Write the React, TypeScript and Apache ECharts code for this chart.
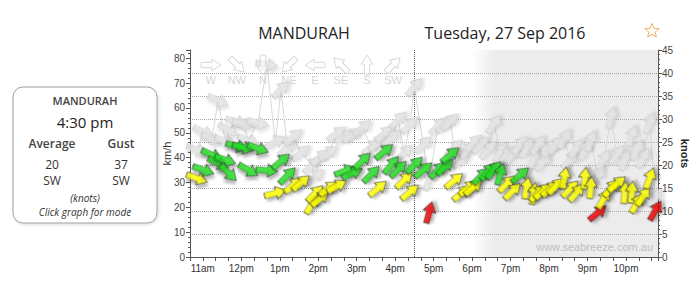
import React, { useEffect, useRef } from 'react';
import * as echarts from 'echarts';

// ---- data ----
const stationName = 'MANDURAH';
const dateLabel = 'Tuesday, 27 Sep 2016';
const times = ['10:51','11:01','11:14','11:24','11:35','11:40','11:53','12:03','12:11','12:26',
  '12:40','12:53','13:02','13:12','13:21','13:33','13:50','13:55','14:03','14:16',
  '14:29','14:42','14:53','15:09','15:23','15:33','15:43','15:54','16:05','16:14',
  '16:23','16:30','16:44','16:53','17:07','17:18','17:26','17:32','17:44','17:54',
  '18:02','18:14','18:25','18:34','18:44','18:54','19:03','19:15','19:25','19:36',
  '19:43','19:51','20:02','20:11','20:24','20:33','20:43','20:56','21:05','21:16',
  '21:25','21:37','21:46','21:58','22:09','22:17','22:27','22:37','22:46'];
const avgKnots = [17.1,18.9,22.2,20.4,21.1,18.3,24.1,23.8,18.9,23.6,
  18.8,13.9,20.8,17.7,15.6,16.1,11.5,13.8,12.7,14.9,
  15.4,18.7,18.2,20.9,18.0,14.9,22.9,20.0,19.1,16.7,
  14.1,20.0,18.9,9.7,18.9,19.6,22.2,16.6,13.9,15.0,
  15.1,17.6,18.6,18.9,18.0,15.9,14.3,17.8,15.0,13.8,
  13.9,14.3,14.8,15.4,17.2,14.8,14.0,17.1,15.1,9.6,
  12.6,15.0,15.9,14.0,14.1,11.7,13.2,17.1,10.1];
const avgDir = [290,290,295,295,290,315,285,285,300,290,
  275,255,230,225,230,230,210,225,230,235,
  240,250,245,225,225,230,230,220,225,225,
  230,225,230,195,225,225,230,230,230,230,
  230,225,220,220,195,225,225,230,190,190,
  225,230,230,225,190,225,220,185,185,230,
  210,220,230,185,185,210,215,200,210];
const gustKnots = [23.3,27.2,25.7,34.0,25.2,27.6,29.4,28.9,25.4,29.1,
  41.8,25.0,36.4,23.7,26.1,22.6,20.0,17.4,21.7,22.6,
  26.8,26.1,26.5,28.1,23.9,24.8,26.8,25.9,29.8,22.6,
  28.7,37.0,24.4,16.7,28.5,28.9,29.4,23.7,21.1,23.3,
  24.8,24.4,23.3,28.9,22.8,22.2,22.2,24.4,23.7,21.5,
  24.4,20.7,23.7,24.4,25.7,21.1,23.7,23.3,25.2,17.8,
  21.1,30.3,22.2,21.1,26.3,23.3,21.5,29.1,12.8];
const gustDir = [290,295,295,295,290,300,285,285,290,285,
  280,240,225,230,230,230,225,230,230,235,
  235,240,235,230,230,230,230,225,225,225,
  225,220,225,200,225,225,225,225,230,225,
  225,225,220,215,210,220,220,220,210,200,
  215,220,220,220,210,220,215,205,200,220,
  210,195,215,200,200,205,210,200,210];
const compassLabels = ['W','NW','N','NE','E','SE','S','SW'];
const compassDirs = [270,315,0,45,90,135,180,225];
const xStart = '10:40';
const xEnd = '22:50';
const nowTime = '16:30';
const nightStart = '18:00';
const infoTime = '4:30 pm';
const infoAvg = '20';
const infoGust = '37';
const infoAvgDir = 'SW';
const infoGustDir = 'SW';

// ---- helpers ----
const toMin = (t: string) => { const [h, m] = t.split(':').map(Number); return h * 60 + m; };
const KMH_PER_KNOT = 1.852;
const fmtHour = (v: number) => {
  if (v % 60 !== 0) return '';
  const h = v / 60;
  if (h < 12) return h + 'am';
  if (h === 12) return '12pm';
  return (h - 12) + 'pm';
};
const speedColor = (k: number) => (k < 10.5 ? '#e80000' : k < 17.5 ? '#ffff00' : '#22dd22');
const ARROW_PTS = [[0,3.5],[12,3.5],[12,0],[22,6.5],[12,13],[12,9.5],[0,9.5]];
const arrowSymbol = 'path://M' + ARROW_PTS.map(p => p.join(',')).join(' L') + ' Z';
const rotFor = (dir: number) => 270 - dir;

function buildOption() {
  const tMin = times.map(toMin);
  const gustLine = tMin.map((t, i) => [t, gustKnots[i]]);
  const gustArrows = tMin.map((t, i) => ({ value: [t, gustKnots[i]], symbolRotate: rotFor(gustDir[i]) }));
  const avgArrows = tMin.map((t, i) => ({
    value: [t, avgKnots[i]],
    symbolRotate: rotFor(avgDir[i]),
    itemStyle: { color: speedColor(avgKnots[i]) },
  }));

  const legendPts = ARROW_PTS.map(p => [p[0] - 11, p[1] - 6.5]);
  const compassGraphics: any[] = [];
  compassLabels.forEach((lab, i) => {
    const cx = 211 + i * 26;
    compassGraphics.push({
      type: 'polygon', x: cx, y: 65, rotation: (rotFor(compassDirs[i]) * Math.PI) / 180,
      shape: { points: legendPts.map(p => [p[0] * 0.9, p[1] * 0.9]) },
      style: { fill: 'rgba(255,255,255,0.5)', stroke: '#d8d8d8', lineWidth: 1 }, z: 10, silent: true,
    });
    compassGraphics.push({
      type: 'text', x: cx, y: 80,
      style: { text: lab, fill: '#d6d6d6', fontSize: 11, fontFamily: 'Liberation Sans', align: 'center', verticalAlign: 'middle' },
      z: 10, silent: true,
    });
  });

  const starPts: number[][] = [];
  for (let i = 0; i < 10; i++) {
    const r = i % 2 === 0 ? 7.5 : 3.3;
    const a = -Math.PI / 2 + (i * Math.PI) / 5;
    starPts.push([r * Math.cos(a), r * Math.sin(a)]);
  }

  const txt = (text: string, x: number, y: number, size: number, extra: any = {}) => ({
    type: 'text', x, y, silent: true, z: 20,
    style: Object.assign({ text, fill: '#333', fontSize: size, fontFamily: 'Open Sans', align: 'center', verticalAlign: 'middle' }, extra),
  });

  return {
    animation: false,
    backgroundColor: '#ffffff',
    grid: { left: 190, right: 42, top: 50, bottom: 26 },
    xAxis: {
      type: 'value', min: toMin(xStart), max: toMin(xEnd), interval: 20, z: 2,
      axisLine: { show: true, lineStyle: { color: '#555', width: 1 } },
      axisTick: { show: true, length: 4, lineStyle: { color: '#555' } },
      axisLabel: { formatter: fmtHour, color: '#333', fontSize: 10, fontFamily: 'Liberation Sans', margin: 6, hideOverlap: false },
      splitLine: { show: false },
    },
    yAxis: [
      {
        type: 'value', min: 0, max: 45 * KMH_PER_KNOT, interval: 10, position: 'left', z: 2,
        name: 'km/h', nameLocation: 'middle', nameRotate: 90, nameGap: 18, nameMoveOverlap: false,
        nameTextStyle: { color: '#333', fontSize: 11, fontFamily: 'Liberation Sans' },
        axisLine: { show: true, lineStyle: { color: '#555' } },
        axisTick: { show: true, length: 4, lineStyle: { color: '#555' } },
        minorTick: { show: true, splitNumber: 5, length: 2, lineStyle: { color: '#555' } },
        axisLabel: { formatter: (v: number) => (Math.abs(v % 10) < 1e-6 ? String(v) : ''), color: '#444', fontSize: 10, fontFamily: 'Liberation Sans', margin: 5 },
        splitLine: { show: false },
      },
      {
        type: 'value', min: 0, max: 45, interval: 5, position: 'right', z: 2,
        name: 'knots', nameLocation: 'middle', nameRotate: -90, nameGap: 21, nameMoveOverlap: false,
        nameTextStyle: { color: '#222', fontSize: 11, fontWeight: 'bold', fontFamily: 'Liberation Sans' },
        axisLine: { show: true, lineStyle: { color: '#555' } },
        axisTick: { show: true, length: 4, lineStyle: { color: '#555' } },
        minorTick: { show: true, splitNumber: 5, length: 2, lineStyle: { color: '#555' } },
        axisLabel: { color: '#444', fontSize: 10, fontFamily: 'Liberation Sans', margin: 4 },
        splitLine: { show: true, showMinLine: false, showMaxLine: false, lineStyle: { type: 'dotted', color: '#a8a8a8', width: 1 } },
      },
    ],
    series: [
      {
        type: 'line', yAxisIndex: 1, data: gustLine, showSymbol: false, symbol: 'none', z: 3,
        lineStyle: { color: '#d8d8d8', width: 1 }, emphasis: { disabled: true }, silent: true,
        markArea: {
          silent: true, z: 1,
          itemStyle: {
            color: new echarts.graphic.LinearGradient(0, 0, 1, 0, [
              { offset: 0, color: 'rgba(236,236,236,0)' },
              { offset: 0.12, color: '#ececec' },
              { offset: 1, color: '#ececec' },
            ]),
            borderWidth: 0,
          },
          data: [[{ xAxis: toMin(nightStart) }, { xAxis: toMin(xEnd) }]],
        },
        markLine: {
          silent: true, symbol: ['none', 'none'], z: 3,
          label: { show: false },
          lineStyle: { type: 'dotted', color: '#555', width: 1 },
          data: [{ xAxis: toMin(nowTime) }],
        },
      },
      {
        type: 'scatter', yAxisIndex: 1, data: gustArrows, symbol: arrowSymbol, symbolSize: [22, 13], z: 4,
        silent: true, emphasis: { disabled: true },
        itemStyle: { color: '#e4e4e4', borderColor: '#c8c8c8', borderWidth: 0.8, opacity: 0.85,
          shadowColor: 'rgba(0,0,0,0.15)', shadowBlur: 3, shadowOffsetX: 2, shadowOffsetY: 2 },
      },
      {
        type: 'scatter', yAxisIndex: 1, data: avgArrows, symbol: arrowSymbol, symbolSize: [22, 13], z: 5,
        silent: true, emphasis: { disabled: true },
        itemStyle: { borderColor: '#333', borderWidth: 0.8,
          shadowColor: 'rgba(0,0,0,0.35)', shadowBlur: 3, shadowOffsetX: 2, shadowOffsetY: 3 },
      },
    ],
    graphic: [
      { type: 'rect', x: 13, y: 87, shape: { width: 144, height: 136, r: 10 }, z: 15, silent: true,
        style: { fill: '#fff', stroke: '#a0a0a0', lineWidth: 1, shadowColor: 'rgba(0,0,0,0.15)', shadowBlur: 3, shadowOffsetX: 1, shadowOffsetY: 1 } },
      txt(stationName, 85, 100, 11, { fontWeight: 600, fill: '#444' }),
      txt(infoTime, 85, 122, 15, { fill: '#222' }),
      txt('Average', 52, 143, 12, { fontWeight: 600, fill: '#444' }),
      txt('Gust', 121, 143, 12, { fontWeight: 600, fill: '#444' }),
      txt(infoAvg, 52, 164, 12, { fill: '#333' }),
      txt(infoGust, 121, 164, 12, { fill: '#333' }),
      txt(infoAvgDir, 52, 180, 12, { fill: '#333' }),
      txt(infoGustDir, 121, 180, 12, { fill: '#333' }),
      txt('(knots)', 85, 198, 10, { fontStyle: 'italic', fill: '#333' }),
      txt('Click graph for mode', 85, 212, 10, { fontStyle: 'italic', fill: '#333' }),
      txt(stationName, 304, 33, 16, { fill: '#222' }),
      txt(dateLabel, 505, 33, 16, { fill: '#222' }),
      { type: 'polygon', x: 652, y: 31, shape: { points: starPts }, z: 20, silent: true,
        style: { fill: '#fff', stroke: '#f0b060', lineWidth: 1 } },
      { type: 'text', x: 653, y: 247, z: 20, silent: true,
        style: { text: 'www.seabreeze.com.au', fill: '#bdbdbd', fontSize: 11, fontFamily: 'Liberation Sans', align: 'right', verticalAlign: 'middle' } },
      ...compassGraphics,
    ],
  };
}

export default function App() {
  const ref = useRef<HTMLDivElement>(null);
  useEffect(() => {
    if (!ref.current) return;
    const chart = echarts.init(ref.current, null, { renderer: 'svg' });
    chart.setOption(buildOption() as any);
    return () => chart.dispose();
  }, []);
  return (
    <div
      ref={ref}
      style={{ position: 'fixed', left: 0, top: 0, width: 700, height: 283, background: '#fff' }}
    />
  );
}
